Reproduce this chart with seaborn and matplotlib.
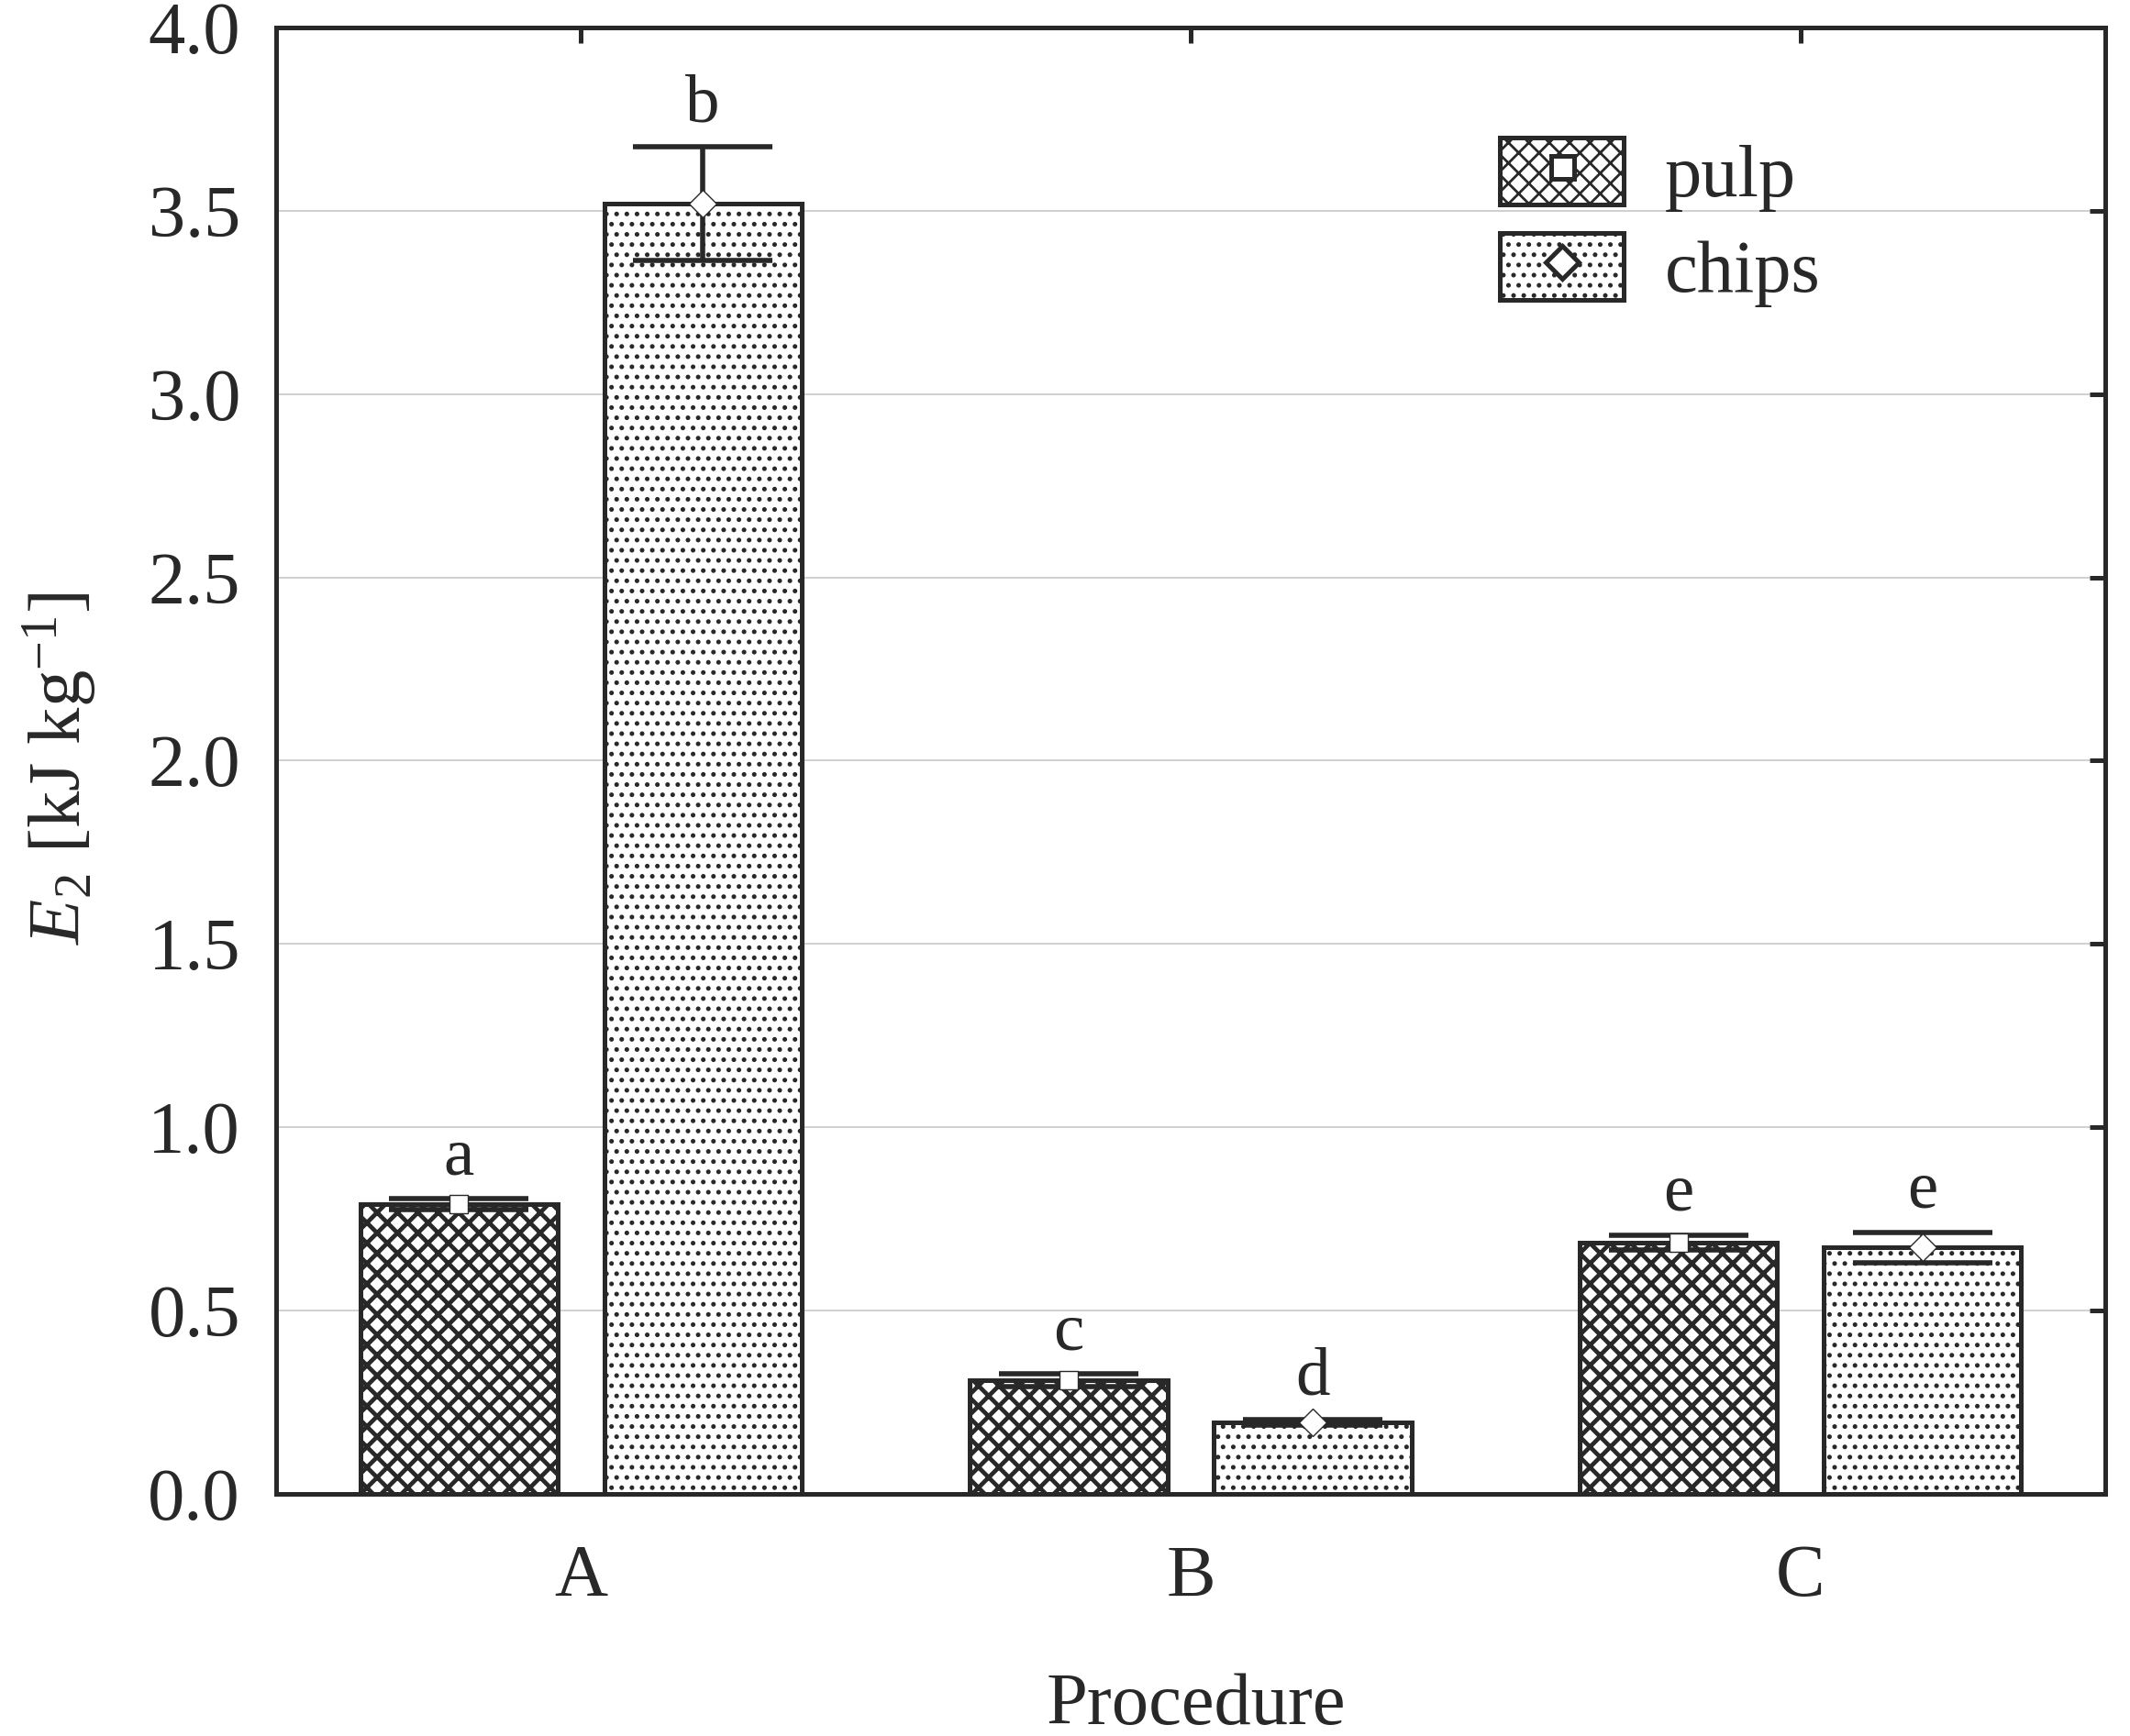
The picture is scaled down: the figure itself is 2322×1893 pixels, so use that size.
import numpy as np
import pandas as pd
import matplotlib
matplotlib.use("Agg")
import matplotlib.pyplot as plt
import seaborn as sns
from matplotlib.patches import Patch
from matplotlib.lines import Line2D

# data
procedures = ["A", "B", "C"]
materials = ["pulp", "chips"]
pulp_mean = [0.79, 0.31, 0.685]
pulp_err = [0.015, 0.017, 0.02]
chips_mean = [3.52, 0.195, 0.672]
chips_err = [0.155, 0.008, 0.041]
pulp_letters = ["a", "c", "e"]
chips_letters = ["b", "d", "e"]
y_ticks = [0.0, 0.5, 1.0, 1.5, 2.0, 2.5, 3.0, 3.5, 4.0]

dark = "#282828"

sns.set_style("white")
plt.rcParams["font.family"] = ["Liberation Serif", "DejaVu Serif"]
plt.rcParams["mathtext.fontset"] = "custom"
plt.rcParams["mathtext.rm"] = "Liberation Serif"
plt.rcParams["mathtext.it"] = "Liberation Serif:italic"
plt.rcParams["hatch.linewidth"] = 1.0
plt.rcParams["text.color"] = dark

tabela = pd.DataFrame({
    "Procedure": procedures * 2,
    "material": ["pulp"] * 3 + ["chips"] * 3,
    "E2": pulp_mean + chips_mean,
})

fig = plt.figure(figsize=(11.61, 9.465), dpi=200)
ax = fig.add_axes([0.1296, 0.1395, 0.8588, 0.8447])

sns.barplot(data=tabela, x="Procedure", y="E2", hue="material",
            hue_order=materials, order=procedures,
            palette=["white", "white"], width=0.8, gap=0.19,
            errorbar=None, legend=False, ax=ax, zorder=2)

hatches = {"pulp": "xxx", "chips": "..."}
hatch_lw = {"pulp": 1.7, "chips": 1.0}
markers = {"pulp": "s", "chips": "D"}
means = {"pulp": pulp_mean, "chips": chips_mean}
errs = {"pulp": pulp_err, "chips": chips_err}
letters = {"pulp": pulp_letters, "chips": chips_letters}


def style_patch(p, mat):
    p.set_facecolor("white")
    p.set_edgecolor(dark)
    p.set_linewidth(1.8)
    p.set_hatch(hatches[mat])
    if hasattr(p, "set_hatch_linewidth"):
        p.set_hatch_linewidth(hatch_lw[mat])


for mat, cont in zip(materials, ax.containers):
    xs = []
    for bar in cont:
        style_patch(bar, mat)
        xs.append(bar.get_x() + bar.get_width() / 2)
    ax.errorbar(xs, means[mat], yerr=errs[mat], fmt="none", ecolor=dark,
                elinewidth=2.0, capsize=27.5, capthick=2.0, zorder=3)
    ax.plot(xs, means[mat], ls="none", marker=markers[mat], ms=7.5,
            mfc="white", mec=dark, mew=0.5, zorder=4)
    for x, m, e, t in zip(xs, means[mat], errs[mat], letters[mat]):
        ax.annotate(t, (x, m + e), xytext=(0, 4), textcoords="offset points",
                    ha="center", va="bottom", fontsize=27, color=dark)

ax.set_xlim(-0.5, 2.5)
ax.set_ylim(0, 4.0)
ax.set_yticks(y_ticks)
ax.set_yticklabels([f"{v:.1f}" for v in y_ticks])
ax.yaxis.grid(True, color="#c8c8c8", linewidth=0.6)
ax.set_axisbelow(True)

for s in ax.spines.values():
    s.set_linewidth(1.8)
    s.set_color(dark)
    s.set_visible(True)

ax.tick_params(axis="both", direction="in", length=6, width=1.8, color=dark,
               labelsize=29, labelcolor=dark, top=True, right=True)
ax.tick_params(axis="y", pad=14)
ax.tick_params(axis="x", pad=20)

ax.set_xlabel("Procedure", fontsize=29, color=dark)
ax.xaxis.set_label_coords(0.503, -0.122)
ax.set_ylabel(r"$\mathit{E}_{\mathrm{2}}$ [kJ kg$^{\mathrm{-1}}$]", fontsize=29, color=dark)
ax.yaxis.set_label_coords(-0.097, 0.495)

handles = []
for mat in materials:
    p = Patch()
    style_patch(p, mat)
    mk = Line2D([], [], ls="none", marker=markers[mat], ms=9, mfc="white",
                mec=dark, mew=1.8)
    handles.append((p, mk))
ax.legend(handles, materials, loc="upper left", bbox_to_anchor=(0.669, 0.925),
          frameon=False, fontsize=29, handlelength=1.68, handleheight=1.02,
          handletextpad=0.55, labelspacing=0.28, borderpad=0, borderaxespad=0)

fig.savefig("out.png", dpi=200, facecolor="white")
